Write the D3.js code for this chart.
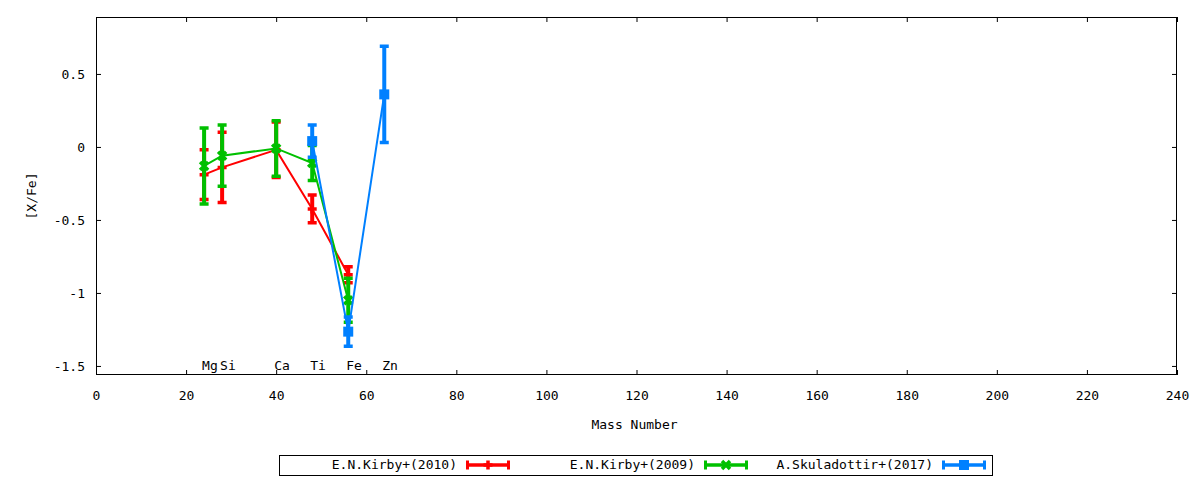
<!DOCTYPE html>
<html>
<head>
<meta charset="utf-8">
<script src="https://cdn.jsdelivr.net/npm/d3@7"></script>
<style>
  html, body { margin: 0; padding: 0; background: #fff; }
  svg { display: block; }
  text { font-family: "DejaVu Sans Mono", monospace; font-size: 13px; fill: #000; }
</style>
</head>
<body>
<svg id="chart" width="1200" height="480"></svg>
<script>
// ---------- data ----------
const xTicks = [0, 20, 40, 60, 80, 100, 120, 140, 160, 180, 200, 220, 240];
const yTicks = [0.5, 0, -0.5, -1, -1.5];
const yTickLabels = ["0.5", "0", "-0.5", "-1", "-1.5"];

const elementNames = ["Mg", "Si", "Ca", "Ti", "Fe", "Zn"];
const elementMasses = [24, 28, 40, 48, 56, 64];
const elementLabelLevel = -1.5;

const kirby2010Mass = [24, 28, 40, 48, 56];
const kirby2010Value = [-0.19, -0.14, -0.02, -0.425, -0.875];
const kirby2010Err = [0.17, 0.24, 0.19, 0.095, 0.055];

const kirby2009Mass = [24, 28, 40, 48, 56];
const kirby2009Value = [-0.13, -0.06, -0.01, -0.11, -1.05];
const kirby2009Err = [0.26, 0.21, 0.19, 0.12, 0.15];

const skuladottirMass = [48, 56, 64];
const skuladottirValue = [0.04, -1.265, 0.36];
const skuladottirErr = [0.11, 0.10, 0.33];

const seriesNames = ["E.N.Kirby+(2010)", "E.N.Kirby+(2009)", "A.Skuladottir+(2017)"];
const seriesColors = ["#ff0000", "#00c000", "#0080ff"];
const seriesMarkers = ["plus", "cross", "square"];

const xLabel = "Mass Number";
const yLabel = "[X/Fe]";

// ---------- build ----------
const series = [
  { mass: kirby2010Mass, value: kirby2010Value, err: kirby2010Err },
  { mass: kirby2009Mass, value: kirby2009Value, err: kirby2009Err },
  { mass: skuladottirMass, value: skuladottirValue, err: skuladottirErr }
].map((s, i) => ({
  name: seriesNames[i], color: seriesColors[i], marker: seriesMarkers[i],
  points: s.mass.map((m, j) => ({ x: m, y: s.value[j], e: s.err[j] }))
}));

const svg = d3.select("#chart");
const L = 96, R = 1177, T = 17, B = 375;
const x = d3.scaleLinear().domain([0, 240]).range([L, R]);
const y = d3.scaleLinear().domain([-1.562, 0.89]).range([B, T]);

// axes (inward ticks, mirrored)
const tick = 5;
const gB = svg.append("g").attr("transform", `translate(0,${B})`)
  .call(d3.axisBottom(x).tickValues(xTicks).tickSizeInner(-tick).tickSizeOuter(0).tickPadding(16).tickFormat(d3.format("d")));
const gT = svg.append("g").attr("transform", `translate(0,${T})`)
  .call(d3.axisTop(x).tickValues(xTicks).tickSizeInner(-tick).tickSizeOuter(0).tickFormat(""));
const gL = svg.append("g").attr("transform", `translate(${L},0)`)
  .call(d3.axisLeft(y).tickValues(yTicks).tickSizeInner(-tick).tickSizeOuter(0).tickPadding(11)
    .tickFormat((d, i) => yTickLabels[i]));
const gR = svg.append("g").attr("transform", `translate(${R},0)`)
  .call(d3.axisRight(y).tickValues(yTicks).tickSizeInner(-tick).tickSizeOuter(0).tickFormat(""));
[gB, gT, gL, gR].forEach(g => {
  g.select(".domain").remove();
  g.selectAll("line").attr("stroke", "#000").attr("stroke-width", 1);
  g.selectAll("text").attr("font-family", null).attr("font-size", null).attr("fill", "#000");
  g.attr("font-family", null).attr("font-size", null);
});
gL.selectAll("text").attr("dy", "0.34em");

svg.append("rect").attr("x", L + 0.5).attr("y", T + 0.5)
  .attr("width", R - L - 1).attr("height", B - T - 1)
  .attr("fill", "none").attr("stroke", "#000").attr("stroke-width", 1);

// axis titles
svg.append("text").attr("x", (L + R) / 2 - 2).attr("y", 429).attr("text-anchor", "middle").text(xLabel);
svg.append("text").attr("transform", `translate(36,${(T + B) / 2}) rotate(-90)`)
  .attr("text-anchor", "middle").text(yLabel);

// element labels
svg.append("g").selectAll("text").data(elementNames).join("text")
  .attr("x", (d, i) => x(elementMasses[i]) - 2)
  .attr("y", y(elementLabelLevel))
  .attr("dy", "0.34em")
  .text(d => d);

// marker drawer
function drawMarker(g, type, cx, cy, color) {
  if (type === "plus") {
    g.append("path").attr("d", `M${cx - 4.5},${cy}H${cx + 4.5}M${cx},${cy - 4.5}V${cy + 4.5}`)
      .attr("stroke", color).attr("stroke-width", 3.5).attr("fill", "none");
  } else if (type === "cross") {
    g.append("path").attr("d", `M${cx - 4},${cy - 4}L${cx + 4},${cy + 4}M${cx - 4},${cy + 4}L${cx + 4},${cy - 4}`)
      .attr("stroke", color).attr("stroke-width", 3.5).attr("fill", "none");
  } else {
    g.append("rect").attr("x", cx - 5).attr("y", cy - 5).attr("width", 10).attr("height", 10).attr("fill", color);
  }
}

// series
const line = d3.line().x(d => x(d.x)).y(d => y(d.y));
series.forEach(s => {
  const g = svg.append("g");
  s.points.forEach(p => {
    const cx = x(p.x), y0 = y(p.y + p.e), y1 = y(p.y - p.e);
    g.append("path").attr("d", `M${cx},${y0}V${y1}`)
      .attr("stroke", s.color).attr("stroke-width", 4).attr("fill", "none");
    g.append("path").attr("d", `M${cx - 4.5},${y0}H${cx + 4.5}M${cx - 4.5},${y1}H${cx + 4.5}`)
      .attr("stroke", s.color).attr("stroke-width", 3.5).attr("fill", "none");
  });
  g.append("path").datum(s.points).attr("d", line)
    .attr("fill", "none").attr("stroke", s.color).attr("stroke-width", 2);
  s.points.forEach(p => drawMarker(g, s.marker, x(p.x), y(p.y), s.color));
});

// legend
const lgX0 = 279.5, lgY0 = 455.5, lgW = 713, lgH = 20, lgStep = 238, lgSample0 = 466, lgSampleW = 44;
svg.append("rect").attr("x", lgX0).attr("y", lgY0).attr("width", lgW).attr("height", lgH)
  .attr("fill", "none").attr("stroke", "#000").attr("stroke-width", 1);
series.forEach((s, i) => {
  const sx = lgSample0 + i * lgStep, cy = lgY0 + lgH / 2 - 0.5;
  const g = svg.append("g");
  g.append("text").attr("x", sx - 9).attr("y", cy).attr("dy", "0.34em").attr("text-anchor", "end").text(s.name);
  g.append("path").attr("d", `M${sx},${cy}H${sx + lgSampleW}`)
    .attr("stroke", s.color).attr("stroke-width", 3.5).attr("fill", "none");
  g.append("path").attr("d", `M${sx + 1.5},${cy - 4.5}V${cy + 4.5}M${sx + lgSampleW - 1.5},${cy - 4.5}V${cy + 4.5}`)
    .attr("stroke", s.color).attr("stroke-width", 3).attr("fill", "none");
  drawMarker(g, s.marker, sx + lgSampleW / 2, cy, s.color);
});
</script>
</body>
</html>
